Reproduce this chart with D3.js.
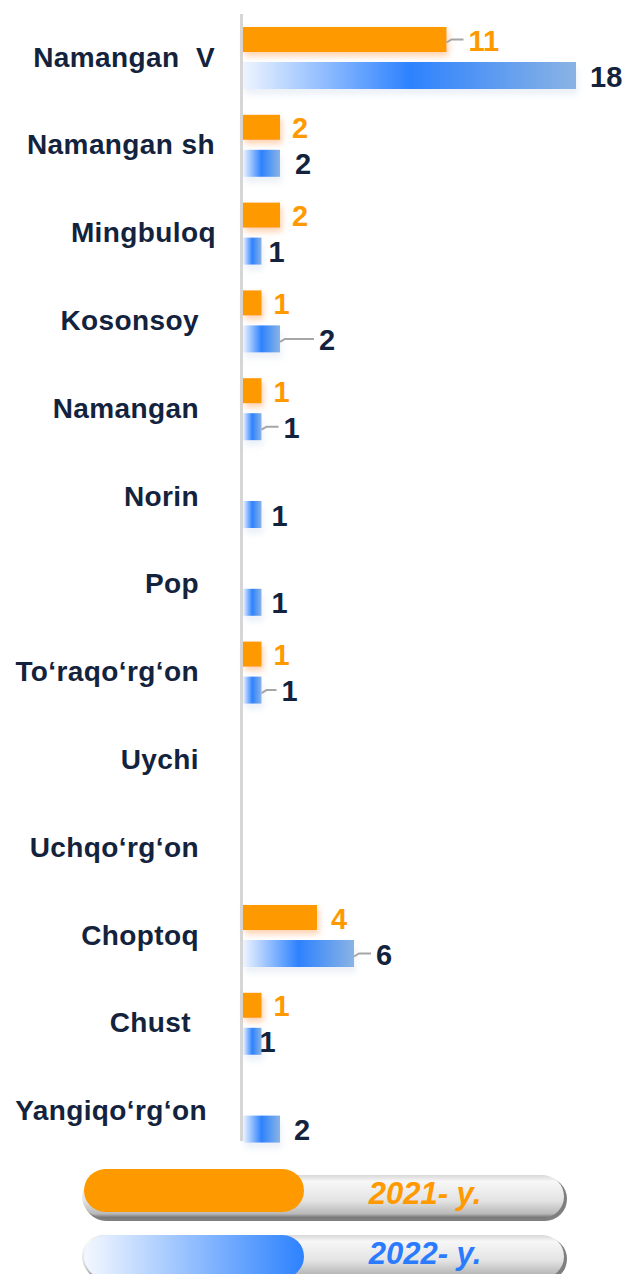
<!DOCTYPE html>
<html lang="en">
<head>
<meta charset="UTF-8">
<title>Namangan 2021 / 2022</title>
<style>
  body { margin: 0; background: #fff; }
  .cat { font-family: "Liberation Sans", Arial, sans-serif; font-weight: bold; font-size: 28px; letter-spacing: 0.4px; fill: #14233d; white-space: pre; }
  .val { font-family: "Liberation Sans", Arial, sans-serif; font-weight: bold; font-size: 29px; }
  .leg { font-family: "Liberation Sans", Arial, sans-serif; font-weight: bold; font-style: italic; font-size: 31px; text-anchor: middle; }
</style>
<script src="https://d3js.org/d3.v7.min.js"></script>
</head>
<body>
<script>
// data
const districts = ["Namangan  V", "Namangan sh", "Mingbuloq", "Kosonsoy", "Namangan", "Norin", "Pop",
                   "To\u2018raqo\u2018rg\u2018on", "Uychi", "Uchqo\u2018rg\u2018on", "Choptoq", "Chust", "Yangiqo\u2018rg\u2018on"];
const y2021 = [11, 2, 2, 1, 1, null, null, 1, null, null, 4, 1, null];
const y2022 = [18, 2, 1, 2, 1, 1, 1, 1, null, null, 6, 1, 2];
const legendLabels = ["2021- y.", "2022- y."];

// layout tweaks (label placement as in the picture)
const labelRight = [215, 215, 216, 199, 199, 199, 199, 199, 199, 199, 199, 191, 207];
const gap2021 = [22, 12, 12, 12, 12, 0, 0, 12, 0, 0, 14, 12, 0];
const gap2022 = [14, 15, 7, 39, 22, 10, 10, 20, 0, 0, 22, -2, 14];

const W = 627, H = 1274;
const orange = "#ff9900", navy = "#14233d";

const svg = d3.select("body").append("svg")
  .attr("width", W).attr("height", H);

const defs = svg.append("defs");
const gBlue = defs.append("linearGradient").attr("id", "gBlue");
gBlue.append("stop").attr("offset", "0%").attr("stop-color", "#eef4ff");
gBlue.append("stop").attr("offset", "50%").attr("stop-color", "#2d82fe");
gBlue.append("stop").attr("offset", "100%").attr("stop-color", "#8ab3e4");

const gLegBlue = defs.append("linearGradient").attr("id", "gLegBlue");
gLegBlue.append("stop").attr("offset", "0%").attr("stop-color", "#f4f8ff");
gLegBlue.append("stop").attr("offset", "100%").attr("stop-color", "#2d82fe");

const gPill = defs.append("linearGradient").attr("id", "gPill")
  .attr("x1", 0).attr("y1", 0).attr("x2", 0).attr("y2", 1);
gPill.append("stop").attr("offset", "0%").attr("stop-color", "#d8d8d8");
gPill.append("stop").attr("offset", "15%").attr("stop-color", "#f7f7f7");
gPill.append("stop").attr("offset", "60%").attr("stop-color", "#e3e3e3");
gPill.append("stop").attr("offset", "90%").attr("stop-color", "#b9b9b9");
gPill.append("stop").attr("offset", "100%").attr("stop-color", "#6f6f6f");

const fOr = defs.append("filter").attr("id", "shOr")
  .attr("x", "-20%").attr("y", "-40%").attr("width", "160%").attr("height", "200%");
fOr.append("feDropShadow").attr("dx", 2).attr("dy", 4).attr("stdDeviation", 3)
  .attr("flood-color", "#ffb27a").attr("flood-opacity", 0.6);
const fBl = defs.append("filter").attr("id", "shBl")
  .attr("x", "-20%").attr("y", "-40%").attr("width", "160%").attr("height", "220%");
fBl.append("feDropShadow").attr("dx", 2).attr("dy", 6).attr("stdDeviation", 3)
  .attr("flood-color", "#c9d6ea").attr("flood-opacity", 0.35);

// scales
const x = d3.scaleLinear().domain([0, 18]).range([243, 576]);
const y = d3.scaleBand().domain(districts).range([14, 14 + 87.8 * districts.length]);

// axis line
svg.append("line")
  .attr("x1", 241.5).attr("x2", 241.5).attr("y1", 14).attr("y2", 1141)
  .attr("stroke", "#d6d6d6").attr("stroke-width", 3);

// category labels
svg.selectAll(".cat").data(districts).join("text")
  .attr("class", "cat")
  .attr("x", (d, i) => labelRight[i])
  .attr("y", d => y(d) + 43)
  .attr("text-anchor", "end")
  .attr("dominant-baseline", "central")
  .text(d => d);

function series(vals, gaps, yOff, h, fill, filt, color) {
  const rows = vals.map((v, i) => ({ v, i, d: districts[i] })).filter(r => r.v != null);
  const g = svg.append("g");
  g.selectAll("rect").data(rows).join("rect")
    .attr("x", x(0))
    .attr("y", r => y(r.d) + yOff)
    .attr("width", r => x(r.v) - x(0))
    .attr("height", h)
    .attr("fill", fill)
    .attr("filter", filt);
  // leader lines for labels pushed away from the bar
  g.selectAll("path").data(rows.filter(r => gaps[r.i] > 18)).join("path")
    .attr("d", r => {
      const x0 = x(r.v), cy = y(r.d) + yOff + h / 2;
      return `M${x0},${cy + 3} L${x0 + 5},${cy} L${x0 + gaps[r.i] - 5},${cy}`;
    })
    .attr("fill", "none").attr("stroke", "#a6a6a6").attr("stroke-width", 2);
  g.selectAll("text").data(rows).join("text")
    .attr("class", "val")
    .attr("x", r => x(r.v) + gaps[r.i])
    .attr("y", r => y(r.d) + yOff + h / 2 + 1)
    .attr("dominant-baseline", "central")
    .attr("fill", color)
    .text(r => r.v);
}

series(y2021, gap2021, 13, 25, orange, "url(#shOr)", orange);
series(y2022, gap2022, 48, 27, "url(#gBlue)", "url(#shBl)", navy);

// legend pills
const legend = svg.append("g");
const legY = [1175, 1235];
const legFill = [orange, "url(#gLegBlue)"];
const legColor = [orange, "#2b7bff"];
legendLabels.forEach((t, i) => {
  const top = legY[i];
  legend.append("rect").attr("x", 84).attr("y", top + 2).attr("width", 483).attr("height", 44)
    .attr("rx", 22).attr("fill", "#5f5f5f").attr("opacity", 0.8);
  legend.append("rect").attr("x", 82).attr("y", top).attr("width", 482).attr("height", 43)
    .attr("rx", 21.5).attr("fill", "url(#gPill)");
  legend.append("rect").attr("x", 84).attr("y", top - (i === 0 ? 6 : 0)).attr("width", 220).attr("height", 43)
    .attr("rx", 21.5).attr("fill", legFill[i]);
  legend.append("text").attr("class", "leg")
    .attr("x", 425).attr("y", top + 29)
    .attr("fill", legColor[i])
    .text(t);
});
</script>
</body>
</html>
